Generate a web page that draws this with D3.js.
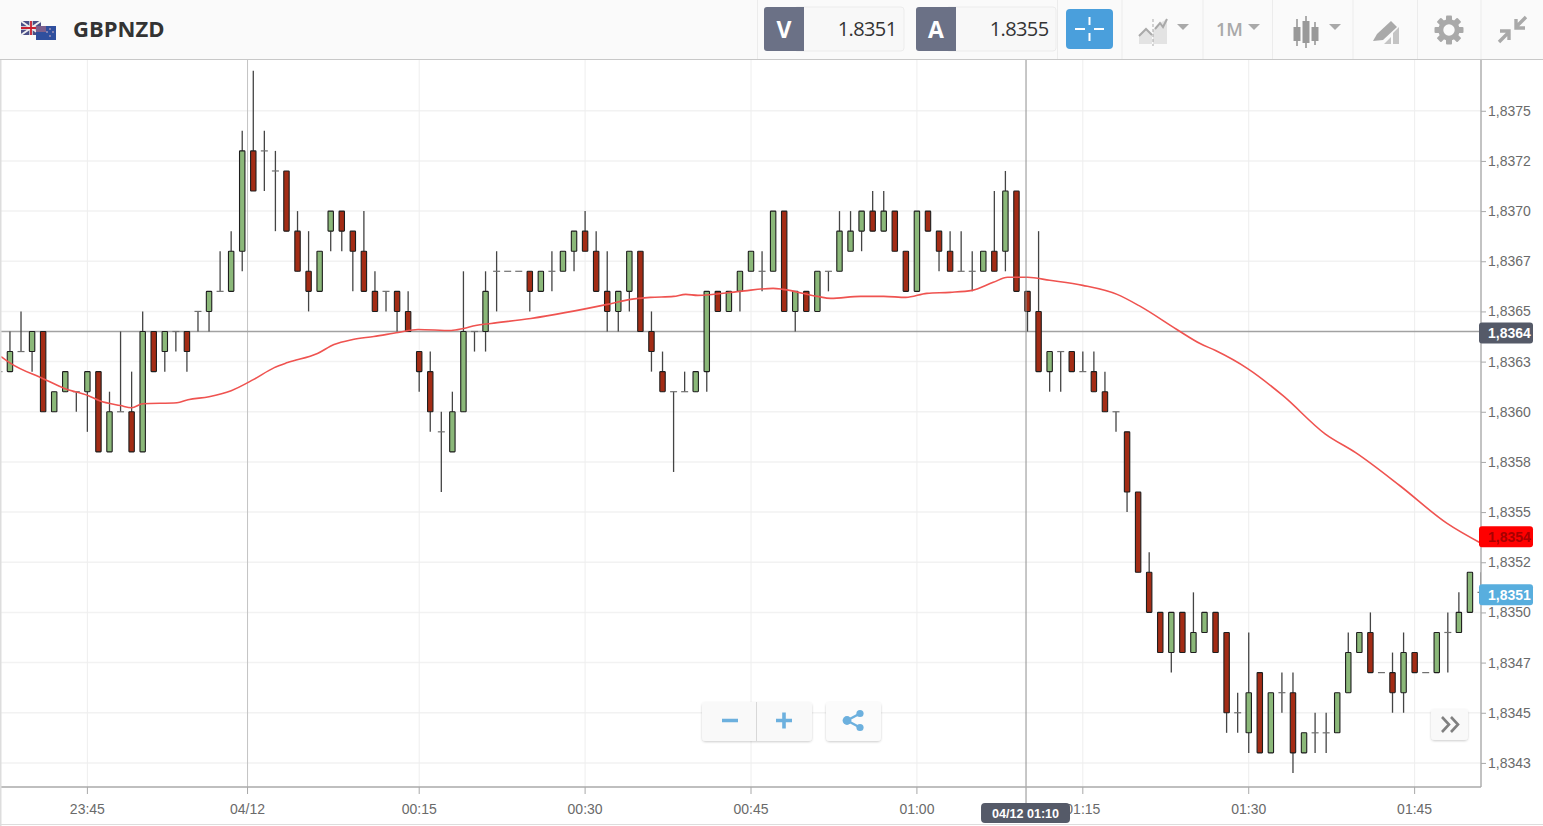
<!DOCTYPE html>
<html>
<head>
<meta charset="utf-8">
<script src="https://cdn.jsdelivr.net/npm/d3@7"></script>
<style>
  html, body { margin: 0; padding: 0; background: #fff; overflow: hidden; }
  svg { display: block; font-family: "Liberation Sans", Arial, sans-serif; }
  .tb { font-family: "Open Sans", sans-serif; }
</style>
</head>
<body>
<script>
// Prices are in pips above 1.8300, time in minutes from 04/12 00:00
const firstMinute = -23;

const opens = [
    62,62,63,63,64,60,61,61,61,62,58,60,60,58,64,63,64,64,65,65,66,66,68,73,
    73,72,72,69,67,66,69,70,69,68,
    66,66,66,65,63,62,59,58,60,64,
    64,67,67,67,67,66,67,67,68,69,
    68,66,65,66,68,64,62,61,61,61,
    62,66,65,66,67,67,67,70,65,66,
    65,67,67,68,69,70,69,70,68,66,
    70,69,68,67,67,67,68,68,71,66,
    65,62,63,63,62,62,61,60,59,56,
    52,50,48,50,48,49,50,49,45,44,
    47,43,46,46,43,44,44,44,46,48,
    49,47,47,46,48,47,47,49,49,50,51
];
const closes = [
    62,63,63,64,60,61,62,61,62,58,60,60,58,64,62,64,64,63,65,66,66,68,73,71,
    73,72,69,67,66,68,70,69,68,66,
    65,66,65,64,62,60,59,60,64,64,
    66,67,67,67,66,67,67,68,69,68,
    66,65,66,68,64,63,61,61,61,62,
    66,65,66,67,68,67,70,65,66,65,
    67,67,69,69,70,69,70,68,66,70,
    69,68,67,67,67,68,67,71,66,65,
    62,63,63,62,62,61,60,60,56,52,
    50,48,50,48,49,50,48,45,45,46,
    43,46,46,43,44,44,44,46,48,49,
    47,47,46,48,47,47,49,49,50,52,51
];
const highs = [
    62,64,65,64,64,61,62,61,62,62,61,64,62,65,64,64,64,64,65,66,68,69,74,77,
    74,73,72,70,69,68,70,70,69,70,
    67,66,66,66,63,63,60,61,67,64,
    67,68,67,67,67,67,68,68,69,70,
    69,68,66,68,68,65,63,61,62,62,
    66,66,66,67,68,68,70,70,66,66,
    67,67,70,70,70,71,71,70,68,70,
    70,69,69,69,68,68,71,72,71,66,
    69,63,63,63,63,63,62,60,59,56,
    53,50,50,50,51,50,50,49,46,49,
    47,46,47,47,44,45,45,46,49,49,
    50,47,48,49,48,47,49,50,51,52,52
];
const lows = [
    62,62,63,62,60,60,61,60,59,58,58,60,58,58,62,62,63,62,64,64,66,66,67,71,
    71,69,69,67,65,66,68,68,66,66,
    65,65,64,64,61,59,56,58,60,63,
    63,65,67,67,65,66,66,67,67,68,
    66,64,64,65,64,62,61,57,61,61,
    61,65,65,65,67,66,67,65,64,65,
    65,66,67,68,68,69,69,68,66,66,
    69,67,67,67,66,67,67,67,66,64,
    62,61,61,62,62,61,60,59,55,52,
    50,48,47,48,48,49,48,44,44,43,
    43,43,45,42,43,43,43,44,46,48,
    47,47,45,45,47,47,47,47,49,50,51
];

// red moving average
const maMinutes = [-22.8,-21.9,-19,-17,-14.9,-13.9,-12,-11,-10,-6.9,-5.9,-4,-2,0,1.9,3.1,5.8,7.3,9,10.9,13.1,14.9,17.9,19,20.1,21.5,25.1,32,34.1,35.9,38,39.1,40.2,44,47,47.9,51,52.2,54.9,57,59,60.9,63,65,66.9,68.2,70,72,75,78.1,80.2,83.5,85.6,87,89.9,93.1,96.9,99.7,103.7,107.9,111];
const maValues = [62.75,62.4,61.65,61.15,60.8,60.55,60.31,60.2,60.4,60.45,60.6,60.75,61.05,61.6,62.2,62.45,62.9,63.35,63.6,63.75,63.95,64.1,64.05,64.15,64.3,64.4,64.65,65.35,65.6,65.7,65.75,65.85,65.8,66,66.15,66.1,65.75,65.65,65.75,65.75,65.7,65.9,65.95,66.05,66.45,66.7,66.7,66.55,66.3,65.85,65.25,64.1,63.4,63.05,62.15,60.8,58.9,57.95,56.3,54.45,53.45];

const priceTicks = [75,72.5,70,67.5,65,62.5,60,57.5,55,52.5,50,47.5,45,42.5];
const priceLabels = ["1,8375","1,8372","1,8370","1,8367","1,8365","1,8363","1,8360","1,8358","1,8355","1,8352","1,8350","1,8347","1,8345","1,8343"];
const timeTicks = [-15,0,15,30,45,60,75,90,105];
const timeLabels = ["23:45","04/12","00:15","00:30","00:45","01:00","01:15","01:30","01:45"];

const crossMinute = 70, crossPrice = 64, crossPriceLabel = "1,8364", crossTimeLabel = "04/12 01:10";
const maLastLabel = "1,8354", maLastPrice = 53.85;
const lastLabel = "1,8351", lastPrice = 50.95;
const pairName = "GBPNZD", bidValue = "1.8351", askValue = "1.8355";

const width = 1543, height = 826;
const plot = { left: 0, right: 1481, top: 60, bottom: 787 };

const x = d3.scaleLinear().domain([-22.9, 111]).range([plot.left, plot.right]);
const y = d3.scaleLinear().domain([41.3, 77.53]).range([plot.bottom, plot.top]);

const green = "#8bb879", red = "#a32c15", wickCol = "#444444";
const dayGridShift = -0.52; // the date gridline sits half a bar left of its candle

const svg = d3.select("body").append("svg").attr("width", width).attr("height", height);

svg.append("defs").append("clipPath").attr("id", "plotclip")
    .append("rect").attr("x", plot.left).attr("y", plot.top)
    .attr("width", plot.right - plot.left).attr("height", plot.bottom - plot.top);
const shadow = svg.select("defs").append("filter").attr("id", "soft")
    .attr("x", "-10%").attr("y", "-10%").attr("width", "120%").attr("height", "130%");
shadow.append("feDropShadow").attr("dx", 0).attr("dy", 1).attr("stdDeviation", 1)
    .attr("flood-color", "#000").attr("flood-opacity", 0.2);

// gridlines
const tickX = d => x(d === 0 ? d + dayGridShift : d);
const hGrid = svg.append("g");
hGrid.selectAll("line").data(priceTicks).join("line")
    .attr("x1", plot.left).attr("x2", plot.right)
    .attr("y1", d => y(d)).attr("y2", d => y(d))
    .attr("stroke", "#f2f2f2").attr("stroke-width", 1.5);
const vGrid = svg.append("g");
vGrid.selectAll("line").data(timeTicks).join("line")
    .attr("x1", tickX).attr("x2", tickX)
    .attr("y1", plot.top).attr("y2", plot.bottom)
    .attr("stroke", d => d === 0 ? "#c4c4c4" : "#eeeeee").attr("stroke-width", 1);

// crosshair
svg.append("line").attr("x1", plot.left).attr("x2", plot.right)
    .attr("y1", y(crossPrice)).attr("y2", y(crossPrice))
    .attr("stroke", "#a2a2a2").attr("stroke-width", 1.3);

// candles
const candles = opens.map((o, i) => ({
    t: firstMinute + i, o: o, c: closes[i], h: highs[i], l: lows[i]
}));
const bars = svg.append("g").attr("clip-path", "url(#plotclip)");
const candle = bars.selectAll("g").data(candles).join("g")
    .attr("transform", d => `translate(${x(d.t)},0)`);
candle.append("line")
    .attr("y1", d => y(d.h)).attr("y2", d => y(d.l))
    .attr("stroke", wickCol).attr("stroke-width", 1.3);
candle.filter(d => d.o === d.c).append("line")
    .attr("x1", -3.5).attr("x2", 3.5)
    .attr("y1", d => y(d.o)).attr("y2", d => y(d.o))
    .attr("stroke", "#707070").attr("stroke-width", 1.2);
candle.filter(d => d.o !== d.c).append("rect")
    .attr("x", -2.7).attr("width", 5.4)
    .attr("y", d => y(Math.max(d.o, d.c)))
    .attr("height", d => Math.abs(y(d.o) - y(d.c)))
    .attr("rx", 0.6)
    .attr("fill", d => d.c > d.o ? green : red)
    .attr("stroke", "#1e1e1e").attr("stroke-width", 1.1);

// moving average
svg.append("path")
    .datum(maMinutes.map((m, i) => [m, maValues[i]]))
    .attr("clip-path", "url(#plotclip)")
    .attr("d", d3.line().x(d => x(d[0])).y(d => y(d[1])).curve(d3.curveMonotoneX))
    .attr("fill", "none").attr("stroke", "#ef5350").attr("stroke-width", 1.6);

// vertical crosshair goes over the candles
svg.append("line").attr("x1", x(crossMinute) - 1.5).attr("x2", x(crossMinute) - 1.5)
    .attr("y1", plot.top).attr("y2", 823)
    .attr("stroke", "#8f8f8f").attr("stroke-width", 1);

// axes
const yAxis = d3.axisRight(y).tickValues(priceTicks)
    .tickFormat((d, i) => priceLabels[i]).tickSize(5).tickPadding(2);
const yG = svg.append("g").attr("transform", `translate(${plot.right},0)`).call(yAxis);
const xAxis = d3.axisBottom(x).tickValues(timeTicks)
    .tickFormat((d, i) => timeLabels[i]).tickSize(7).tickPadding(10);
const xG = svg.append("g").attr("transform", `translate(0,${plot.bottom})`).call(xAxis);
xG.selectAll(".tick").attr("transform", d => `translate(${tickX(d)},0)`);
[yG, xG].forEach(g => {
    g.selectAll(".domain").remove();
    g.selectAll("line").attr("stroke", "#a8a8a8");
    g.selectAll("text").attr("fill", "#6a6a6a").style("font-size", "14px")
        .style("font-family", '"Liberation Sans", Arial, sans-serif');
});
svg.append("line").attr("x1", plot.right).attr("x2", plot.right)
    .attr("y1", plot.top).attr("y2", plot.bottom).attr("stroke", "#aaaaaa").attr("stroke-width", 1.4);
svg.append("line").attr("x1", plot.left).attr("x2", plot.right)
    .attr("y1", plot.bottom).attr("y2", plot.bottom).attr("stroke", "#aaaaaa").attr("stroke-width", 1.4);

// right side price tags
const tags = [
    { v: crossPrice, t: crossPriceLabel, bg: "#555a68", fg: "#ffffff" },
    { v: maLastPrice, t: maLastLabel, bg: "#ff0000", fg: "#a80000" },
    { v: lastPrice, t: lastLabel, bg: "#58aede", fg: "#ffffff" }
];
const tag = svg.append("g").selectAll("g").data(tags).join("g")
    .attr("transform", d => `translate(1479,${y(d.v) - 9})`);
tag.append("rect").attr("width", 54).attr("height", 21).attr("rx", 3).attr("fill", d => d.bg);
tag.append("text").attr("x", 9).attr("y", 16).attr("fill", d => d.fg)
    .style("font-size", "14px").attr("font-weight", 700).text(d => d.t);

// crosshair time tag
const timeTag = svg.append("g").attr("transform", `translate(${x(crossMinute) - 46.5},803)`);
timeTag.append("rect").attr("width", 89).attr("height", 20).attr("rx", 4).attr("fill", "#555a68");
timeTag.append("text").attr("x", 44.5).attr("y", 15).attr("text-anchor", "middle")
    .attr("fill", "#fff").attr("font-weight", 700).style("font-size", "12.6px").text(crossTimeLabel);

// page edges
svg.append("line").attr("x1", 0).attr("x2", width).attr("y1", 824.5).attr("y2", 824.5).attr("stroke", "#dddddd");
svg.append("rect").attr("x", 0).attr("y", 0).attr("width", 1.5).attr("height", height).attr("fill", "#dddddd");

// toolbar
const bar = svg.append("g").attr("class", "tb");
bar.append("rect").attr("width", width).attr("height", 59).attr("fill", "#fafafa");
bar.append("line").attr("x1", 0).attr("x2", width).attr("y1", 59.5).attr("y2", 59.5)
    .attr("stroke", "#c8c8c8").attr("stroke-width", 1.2);
bar.selectAll("line.sep").data([757.5, 1057.5, 1122, 1203, 1272.5, 1353, 1417.5, 1481]).join("line")
    .attr("class", "sep").attr("x1", d => d).attr("x2", d => d).attr("y1", 0).attr("y2", 59)
    .attr("stroke", "#ececec");

// flags
const flags = bar.append("g").attr("transform", "translate(21,21)");
flags.append("rect").attr("width", 20).attr("height", 14).attr("fill", "#4a4f86");
flags.append("path").attr("d", "M0 0L20 14M20 0L0 14").attr("stroke", "#eee").attr("stroke-width", 2);
flags.append("path").attr("d", "M10 0V14M0 7H20").attr("stroke", "#eee").attr("stroke-width", 3.4);
flags.append("path").attr("d", "M10 0V14M0 7H20").attr("stroke", "#c8202f").attr("stroke-width", 1.8);
flags.append("rect").attr("x", 15).attr("y", 5).attr("width", 20).attr("height", 14).attr("fill", "#2f4f9e");
flags.append("rect").attr("x", 15).attr("y", 5).attr("width", 10).attr("height", 6).attr("fill", "#7d5f8c");
flags.selectAll("circle").data([[29, 8], [32, 11], [29, 15], [26, 11]]).join("circle")
    .attr("cx", d => d[0]).attr("cy", d => d[1]).attr("r", 0.8).attr("fill", "#e8c0c8");

bar.append("text").attr("x", 73).attr("y", 37).attr("fill", "#333")
    .attr("font-weight", 700).style("font-size", "22px").text(pairName);

// bid and ask boxes
const quotes = bar.selectAll("g.q").data([
    { x: 764, k: "V", v: bidValue }, { x: 916, k: "A", v: askValue }
]).join("g").attr("class", "q").attr("transform", d => `translate(${d.x},7)`);
quotes.append("rect").attr("x", 30).attr("width", 110).attr("height", 44).attr("rx", 3)
    .attr("fill", "#f8f8f8").attr("stroke", "#ececec");
quotes.append("path").attr("d", "M3 0H40V44H3Q0 44 0 41V3Q0 0 3 0Z").attr("fill", "#6b7186");
quotes.append("text").attr("x", 20).attr("y", 31).attr("text-anchor", "middle")
    .attr("fill", "#fff").attr("font-weight", 700).style("font-size", "23px").text(d => d.k);
quotes.append("text").attr("x", 132.5).attr("y", 29).attr("text-anchor", "end")
    .attr("fill", "#333").style("font-size", "20px").attr("letter-spacing", "-0.6").text(d => d.v);

// crosshair button
bar.append("rect").attr("x", 1066).attr("y", 9).attr("width", 47).attr("height", 40).attr("rx", 4).attr("fill", "#4a9fdc");
bar.append("path").attr("d", "M1089.5 17V25M1089.5 33V41M1075 29H1085M1094 29H1104")
    .attr("stroke", "#fff").attr("stroke-width", 2);

// icons
const iconCol = "#a9a9a9";
const caret = cx => bar.append("path").attr("d", `M${cx - 6} 24H${cx + 6}L${cx} 30Z`).attr("fill", iconCol);
bar.append("path").attr("d", "M1139 44V35L1146 29L1152 35V44ZM1153 44V30L1160 23L1167 19V44Z").attr("fill", "#e3e3e3");
bar.append("path").attr("d", "M1139 36L1146 29L1152 35M1155 29L1160 23L1163 27L1167 19")
    .attr("fill", "none").attr("stroke", iconCol).attr("stroke-width", 2);
bar.append("line").attr("x1", 1153).attr("x2", 1153).attr("y1", 19).attr("y2", 46)
    .attr("stroke", iconCol).attr("stroke-dasharray", "3 2");
caret(1183);
bar.append("text").attr("x", 1216).attr("y", 36).attr("fill", iconCol)
    .attr("font-weight", 600).style("font-size", "18px").text("1M");
caret(1254);
bar.selectAll("g.cd").data([[1297, 27, 14, 19, 46], [1306, 21, 22, 16, 48], [1315, 27, 14, 22, 45]]).join("g").attr("class", "cd")
    .each(function(d) {
        const g = d3.select(this);
        g.append("line").attr("x1", d[0]).attr("x2", d[0]).attr("y1", d[3]).attr("y2", d[4])
            .attr("stroke", "#999").attr("stroke-width", 1.6);
        g.append("rect").attr("x", d[0] - 3.5).attr("y", d[1]).attr("width", 7).attr("height", d[2]).attr("fill", "#999");
    });
caret(1335);
bar.append("path").attr("d", "M1373 41L1377 34L1391 21L1397 27L1383 40Z").attr("fill", iconCol);
bar.append("path").attr("d", "M1384 44L1391 37V44ZM1393 44V33L1399 27V44Z").attr("fill", "#c4c4c4");

// gear, built from a ring with eight teeth
const gear = bar.append("g").attr("transform", "translate(1449,30)");
gear.selectAll("rect").data(d3.range(8)).join("rect")
    .attr("x", -3).attr("y", -14.5).attr("width", 6).attr("height", 7).attr("rx", 1)
    .attr("transform", d => `rotate(${d * 45})`).attr("fill", iconCol);
gear.append("circle").attr("r", 8.2).attr("fill", "none").attr("stroke", iconCol).attr("stroke-width", 5);

// compress arrows
bar.append("path").attr("d", "M1526 17L1516 27M1516 19V28H1525M1499 42L1509 32M1509 40V31H1500")
    .attr("fill", "none").attr("stroke", iconCol).attr("stroke-width", 3.4);

// zoom and share buttons
const btn = svg.append("g");
btn.append("rect").attr("x", 702).attr("y", 702).attr("width", 110).attr("height", 39).attr("rx", 4)
    .attr("fill", "#f9f9f9").attr("filter", "url(#soft)");
btn.append("line").attr("x1", 756.5).attr("x2", 756.5).attr("y1", 702).attr("y2", 741).attr("stroke", "#d8d8d8");
btn.append("path").attr("d", "M722 720.5H738M776 720.5H792M784 712.5V728.5")
    .attr("stroke", "#6cb0de").attr("stroke-width", 3.6).attr("fill", "none");
btn.append("rect").attr("x", 826).attr("y", 702).attr("width", 55).attr("height", 39).attr("rx", 4)
    .attr("fill", "#fbfbfb").attr("filter", "url(#soft)");
btn.append("path").attr("d", "M860 713.5L847 720.5L860 727.5").attr("fill", "none").attr("stroke", "#6cb0de").attr("stroke-width", 2.4);
btn.selectAll("circle").data([[860, 713.5, 3.6], [847, 720.5, 4.4], [860, 727.5, 3.6]]).join("circle")
    .attr("cx", d => d[0]).attr("cy", d => d[1]).attr("r", d => d[2]).attr("fill", "#6cb0de");
btn.append("rect").attr("x", 1431).attr("y", 709).attr("width", 37).attr("height", 31).attr("rx", 4)
    .attr("fill", "#f9f9f9").attr("filter", "url(#soft)");
btn.append("path").attr("d", "M1442 717L1449 724.5L1442 732M1451 717L1458 724.5L1451 732")
    .attr("fill", "none").attr("stroke", "#808080").attr("stroke-width", 2.6);
</script>
</body>
</html>
